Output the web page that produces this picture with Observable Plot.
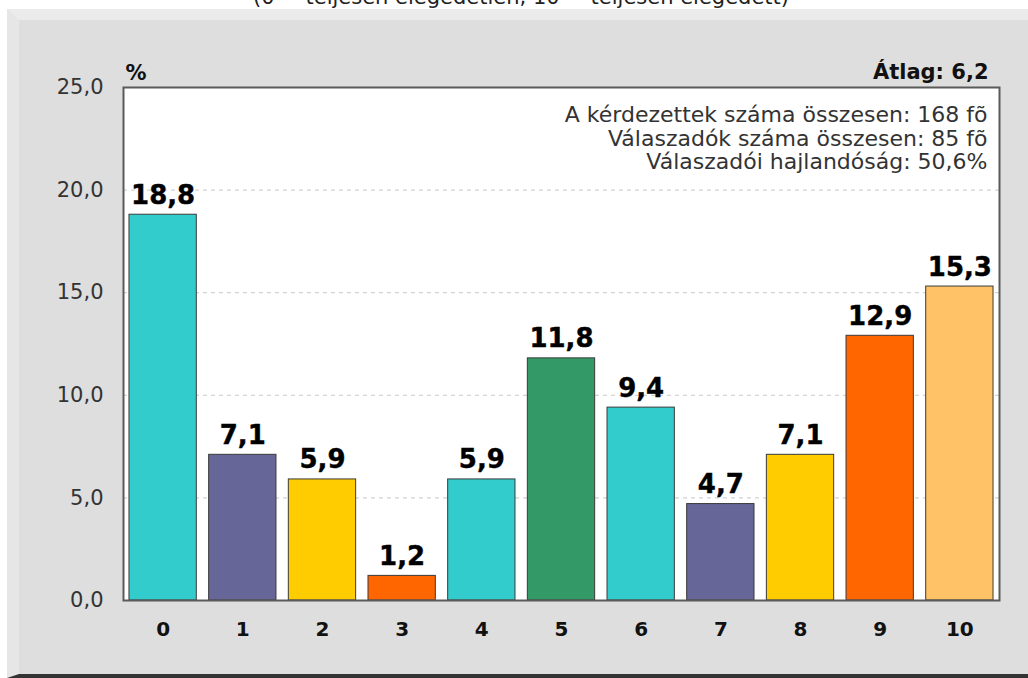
<!DOCTYPE html>
<html>
<head>
<meta charset="utf-8">
<script src="https://cdn.jsdelivr.net/npm/d3@7"></script>
<script src="https://cdn.jsdelivr.net/npm/@observablehq/plot@0.6"></script>
<style>
  html, body { margin: 0; padding: 0; background: #ffffff; width: 1028px; height: 678px; overflow: hidden; font-family: "DejaVu Sans", Verdana, sans-serif; }
  #panel { position: absolute; left: 7px; top: 9px; width: 1021px; height: 669px; box-sizing: border-box;
           background: #dedede; border-top: 11px solid #ebebeb; border-left: 12px solid #e6e6e6; border-bottom: 4px solid #333333; }
  #title { position: absolute; left: 0; width: 1042px; top: -13px; text-align: center; font-size: 21px; line-height: 21px; color: #222; }
  #chart { position: absolute; left: 0; top: 0; }
  #chart svg { background: transparent; }
</style>
</head>
<body>
<div id="panel"></div>
<div id="title">(0 = teljesen elégedetlen, 10 = teljesen elégedett)</div>
<div id="chart"></div>
<script>
const categories = ["0", "1", "2", "3", "4", "5", "6", "7", "8", "9", "10"];
const values = [18.8, 7.1, 5.9, 1.2, 5.9, 11.8, 9.4, 4.7, 7.1, 12.9, 15.3];
const barColors = ["#33CCCC", "#666699", "#FFCC00", "#FF6600", "#33CCCC", "#339966", "#33CCCC", "#666699", "#FFCC00", "#FF6600", "#FFC266"];
const yTicks = [0, 5, 10, 15, 20, 25];
const gridTicks = [5, 10, 15, 20];
const unitLabel = "%";
const averageLabel = "Átlag: 6,2";
const infoLines = ["A kérdezettek száma összesen: 168 fõ", "Válaszadók száma összesen: 85 fõ", "Válaszadói hajlandóság: 50,6%"];

const data = categories.map((c, i) => ({cat: c, value: values[i], color: barColors[i]}));
const fmt = d => d.toFixed(1).replace(".", ",");

const chart = Plot.plot({
  width: 1028,
  height: 678,
  marginLeft: 123,
  marginRight: 29,
  marginTop: 87,
  marginBottom: 78,
  style: {fontFamily: "'DejaVu Sans', Verdana, sans-serif", background: "transparent"},
  x: {domain: categories, paddingInner: 0.155, paddingOuter: 0.075, round: false},
  y: {domain: [0, 25]},
  marks: [
    Plot.frame({fill: "white", stroke: null}),
    Plot.gridY(gridTicks, {stroke: "#c8c8c8", strokeOpacity: 1, strokeDasharray: "4,4"}),
    Plot.barY(data, {x: "cat", y: "value", fill: "color", stroke: "#3a3a3a", strokeWidth: 1}),
    Plot.text(data, {x: "cat", y: "value", text: d => fmt(d.value), lineAnchor: "bottom", dy: -11,
                     fontSize: 26, fontWeight: "bold", fill: "#000", stroke: "#000", strokeWidth: 0.4}),
    Plot.frame({stroke: "#5a5a5a", strokeWidth: 2}),
    Plot.axisY({ticks: yTicks, tickFormat: fmt, tickSize: 0, tickPadding: 20, fontSize: 21, fill: "#333", label: null}),
    Plot.axisX({tickSize: 0, tickPadding: 21, fontSize: 20, fontWeight: "bold", fill: "#111", label: null}),
    Plot.text([unitLabel], {frameAnchor: "top-left", text: d => d, lineAnchor: "bottom", dx: 2, dy: -8,
                            fontSize: 21, fontWeight: "bold", fill: "#111", textAnchor: "start"}),
    Plot.text([averageLabel], {frameAnchor: "top-right", text: d => d, lineAnchor: "bottom", dx: -11, dy: -9,
                               fontSize: 21, fontWeight: "bold", fill: "#111", textAnchor: "end"}),
    Plot.text([infoLines.join("\n")], {frameAnchor: "top-right", text: d => d, lineAnchor: "top", dx: -12, dy: 18,
                                        fontSize: 22, lineHeight: 1.07, fill: "#333", textAnchor: "end"})
  ]
});
document.getElementById("chart").appendChild(chart);
</script>
</body>
</html>
